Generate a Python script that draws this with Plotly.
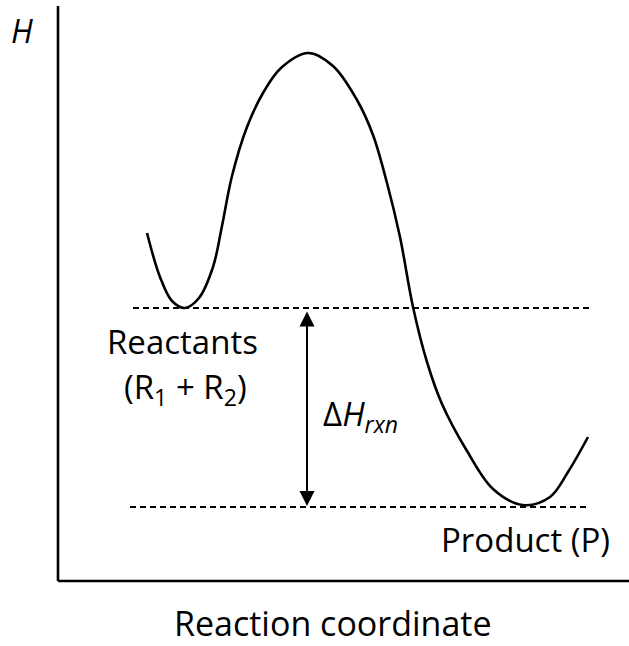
import plotly.graph_objects as go

# Reaction coordinate (arbitrary units) and enthalpy H (arbitrary units)
coord = [89, 102, 114, 127, 141, 155, 164, 174, 189, 205, 223, 250, 275, 299, 315,
         329, 342, 355, 369, 384, 409, 435, 465, 492, 510, 530]
enthalpy = [348, 304, 280, 273, 283, 314, 355, 405, 454, 488, 513, 528, 515, 481, 446,
            398, 344, 274, 219, 177, 130, 92, 76, 84, 109, 144]

h_reactants = 273
h_product = 74
level_x_start = [75, 72]
level_x_end = [532, 530]
arrow_x = 249
axis_x_end = 571
axis_y_end = 575

FONT = "Open Sans"

fig = go.Figure()

fig.add_trace(go.Scatter(
    x=coord, y=enthalpy, mode="lines",
    line=dict(color="black", width=2.6, shape="spline", smoothing=1.0),
    hoverinfo="skip", showlegend=False,
))

for h, x0, x1 in zip([h_reactants, h_product], level_x_start, level_x_end):
    fig.add_trace(go.Scatter(
        x=[x0, x1], y=[h, h], mode="lines",
        line=dict(color="black", width=2, dash="6px,4px"),
        hoverinfo="skip", showlegend=False,
    ))

# axes drawn as lines (L-shaped frame)
fig.add_shape(type="line", x0=0, y0=0, x1=0, y1=axis_y_end, xref="x", yref="y",
              line=dict(color="black", width=2.6))
fig.add_shape(type="line", x0=0, y0=0, x1=axis_x_end, y1=0, xref="x", yref="y",
              line=dict(color="black", width=2.6))

# double-headed arrow for ΔH
fig.add_annotation(
    x=arrow_x, y=h_product + 1, ax=arrow_x, ay=h_reactants - 2,
    xref="x", yref="y", axref="x", ayref="y",
    showarrow=True, arrowhead=2, startarrowhead=2, arrowside="end+start",
    arrowsize=1.5, startarrowsize=1.5, arrowwidth=2, arrowcolor="black", text="",
)

txt = dict(family=FONT, size=33, color="black")
fig.add_annotation(x=124, y=240, xref="x", yref="y", text="Reactants",
                   showarrow=False, font=txt)
fig.add_annotation(x=127, y=193, xref="x", yref="y",
                   text="(R<sub>1</sub> + R<sub>2</sub>)",
                   showarrow=False, font=txt)
fig.add_annotation(x=302, y=166, xref="x", yref="y",
                   text="Δ<i>H</i><sub><i>rxn</i></sub>",
                   showarrow=False, font=txt)
fig.add_annotation(x=467, y=42, xref="x", yref="y", text="Product (P)",
                   showarrow=False, font=txt)
fig.add_annotation(x=-36, y=551, xref="x", yref="y", text="<i>H</i>",
                   showarrow=False, font=dict(family=FONT, size=32, color="black"))
fig.add_annotation(x=275, y=-42, xref="x", yref="y", text="Reaction coordinate",
                   showarrow=False, font=dict(family=FONT, size=34, color="black"))

fig.update_xaxes(range=[-58, 571], visible=False, showgrid=False, zeroline=False)
fig.update_yaxes(range=[-65, 581], visible=False, showgrid=False, zeroline=False)

fig.update_layout(
    width=629, height=646,
    margin=dict(l=0, r=0, t=0, b=0),
    plot_bgcolor="white", paper_bgcolor="white",
    showlegend=False,
)

fig.write_html(
    "out.html",
    config={"displayModeBar": False, "staticPlot": True},
    post_script="document.body.style.margin='0';"
                "document.body.style.overflow='hidden';",
)
